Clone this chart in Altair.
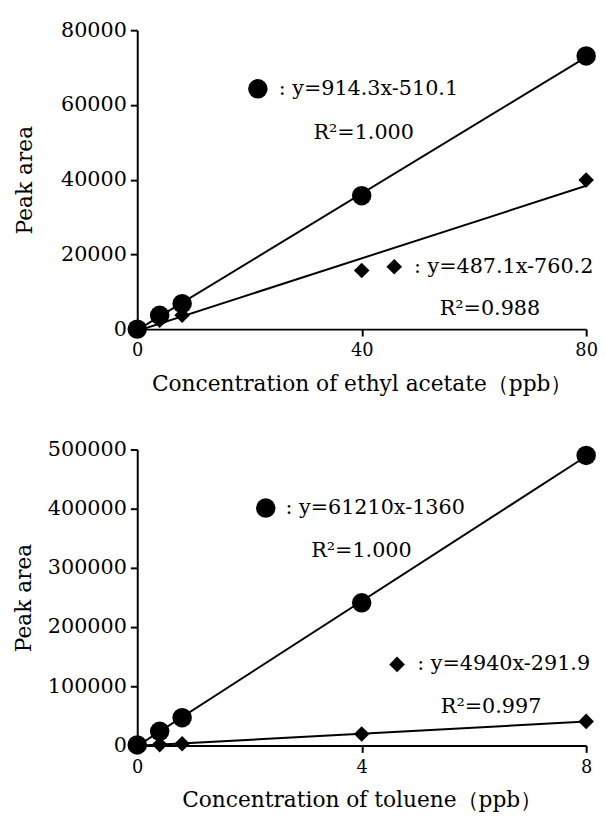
import altair as alt
import pandas as pd

FONT = "DejaVu Serif"

# ---- data: ethyl acetate ----
ea_conc = [0, 4, 8, 40, 80]
ea_circle = [0, 3700, 6800, 35700, 73100]
ea_diamond = [0, 2400, 3700, 15700, 39900]

# ---- data: toluene ----
tol_conc = [0, 0.4, 0.8, 4, 8]
tol_circle = [1000, 24000, 47000, 241000, 490000]
tol_diamond = [0, 1500, 3000, 19500, 40700]

# ---- annotations (data coordinates) ----
ea_ann_sym = ["circle", "diamond"]
ea_ann_sym_x = [21.5, 45.8]
ea_ann_sym_y = [64300, 16700]
ea_ann_text = [": y=914.3x-510.1", "R\u00b2=1.000", ": y=487.1x-760.2", "R\u00b2=0.988"]
ea_ann_text_x = [25.2, 31.4, 49.3, 53.9]
ea_ann_text_y = [64300, 52400, 16700, 5300]

tol_ann_sym = ["circle", "diamond"]
tol_ann_sym_x = [2.29, 4.63]
tol_ann_sym_y = [401000, 137000]
tol_ann_text = [": y=61210x-1360", "R\u00b2=1.000", ": y=4940x-291.9", "R\u00b2=0.997"]
tol_ann_text_x = [2.64, 3.10, 4.99, 5.41]
tol_ann_text_y = [401000, 329000, 137000, 65000]

SHAPES = ["circle", "diamond"]


def panel(conc, circ, diam, xdom, xticks, ydom, yticks, xtitle, tpad, h,
          sym, sx, sy, txt, tx, ty):
    df = pd.DataFrame({
        "x": conc + conc,
        "y": circ + diam,
        "series": ["circle"] * len(conc) + ["diamond"] * len(conc),
    })
    xenc = alt.X("x:Q", scale=alt.Scale(domain=xdom, nice=False, zero=False),
                 axis=alt.Axis(values=xticks, title=xtitle, format="d",
                               labelFlush=False, labelFont=FONT, titleFont=FONT,
                               labelFontSize=18, labelPadding=6))
    yenc = alt.Y("y:Q", scale=alt.Scale(domain=ydom, nice=False),
                 axis=alt.Axis(values=yticks, title="Peak area", format="d",
                               labelFlush=False, titlePadding=tpad,
                               labelFont=FONT, titleFont=FONT))
    shape = alt.Shape("series:N", scale=alt.Scale(domain=SHAPES, range=SHAPES),
                      legend=None)
    base = alt.Chart(df)
    lines = base.transform_regression(
        "x", "y", groupby=["series"], extent=xdom
    ).mark_line(color="black", strokeWidth=2, clip=True).encode(
        x=xenc, y=yenc, detail="series:N")
    pts = base.mark_point(filled=True, opacity=1, color="black").encode(
        x=xenc, y=yenc, shape=shape,
        size=alt.Size("series:N", scale=alt.Scale(domain=SHAPES, range=[390, 250]),
                      legend=None))
    sdf = pd.DataFrame({"x": sx, "y": sy, "series": sym})
    syms = alt.Chart(sdf).mark_point(filled=True, opacity=1, color="black").encode(
        x=xenc, y=yenc, shape=shape,
        size=alt.Size("series:N", scale=alt.Scale(domain=SHAPES, range=[470, 440]),
                      legend=None))
    tdf = pd.DataFrame({"x": tx, "y": ty, "t": txt})
    texts = alt.Chart(tdf).mark_text(align="left", baseline="middle", fontSize=21,
                                     font=FONT, color="black").encode(
        x=xenc, y=yenc, text="t:N")
    return alt.layer(lines, pts, syms, texts).properties(width=455, height=h)


top = panel(ea_conc, ea_circle, ea_diamond, [0, 80], [0, 40, 80], [0, 80000],
            [0, 20000, 40000, 60000, 80000],
            "Concentration of ethyl acetate\uff08ppb\uff09", 24, 303,
            ea_ann_sym, ea_ann_sym_x, ea_ann_sym_y, ea_ann_text, ea_ann_text_x, ea_ann_text_y)
bottom = panel(tol_conc, tol_circle, tol_diamond, [0, 8], [0, 4, 8], [0, 500000],
               [0, 100000, 200000, 300000, 400000, 500000],
               "Concentration of toluene\uff08ppb\uff09", 12, 300,
               tol_ann_sym, tol_ann_sym_x, tol_ann_sym_y, tol_ann_text, tol_ann_text_x, tol_ann_text_y)

chart = alt.vconcat(top, bottom, spacing=45).properties(
    padding={"left": 4, "top": 6, "right": 0, "bottom": 0}
).configure_view(stroke=None).configure_axis(
    grid=False, domainColor="black", domainWidth=2, tickColor="black", tickWidth=2,
    tickSize=7, labelFontSize=21, labelColor="black",
    titleFontSize=22, titleFontWeight="normal", titleColor="black",
    labelPadding=4
).configure_axisX(titlePadding=14, labelAngle=0)

chart.save("out.html", embed_options={"renderer": "svg", "actions": False})
